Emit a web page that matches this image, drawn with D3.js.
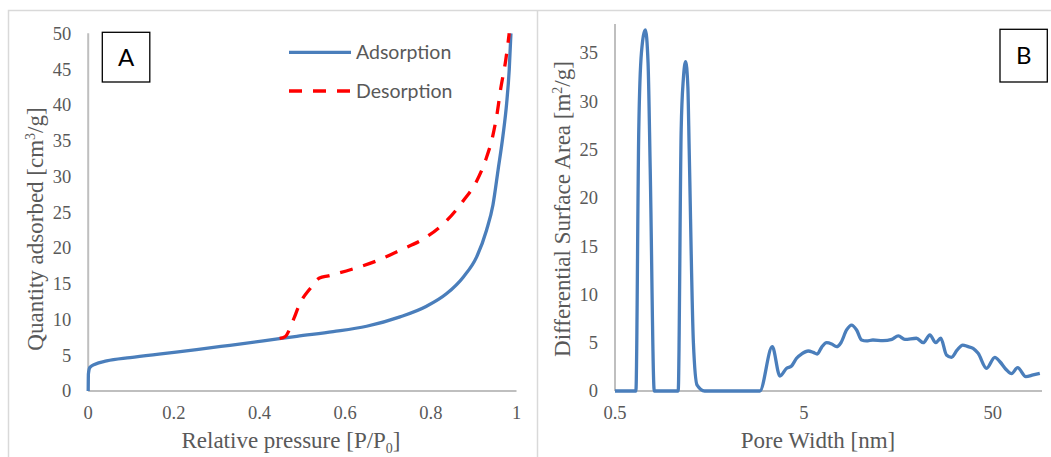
<!DOCTYPE html>
<html>
<head>
<meta charset="utf-8">
<script src="https://cdn.jsdelivr.net/npm/d3@7"></script>
<style>
  body { margin: 0; background: #fff; }
  svg { display: block; }
</style>
</head>
<body>
<svg id="chart" width="1051" height="457"></svg>
<script>
// ---- panel A: isotherm ----
const adsPressure = [0, 0.0005, 0.004, 0.016, 0.043, 0.098, 0.175, 0.253, 0.331, 0.409, 0.487, 0.572,
  0.650, 0.728, 0.790, 0.837, 0.876, 0.907, 0.930, 0.945, 0.957, 0.968, 0.977, 0.983, 0.987];
const adsQuantity = [0, 2.4, 3.3, 3.75, 4.2, 4.67, 5.23, 5.79, 6.39, 7.0, 7.65, 8.3,
  9.05, 10.36, 11.85, 13.62, 15.95, 18.75, 22.48, 26.0, 30.9, 35.5, 40.2, 44.9, 50];
const desPressure = [0.447, 0.460, 0.470, 0.480, 0.495, 0.518, 0.540, 0.561, 0.620, 0.674, 0.729,
  0.784, 0.830, 0.862, 0.877, 0.904, 0.928, 0.944, 0.955, 0.963, 0.975, 0.983];
const desQuantity = [7.35, 7.6, 8.6, 10.1, 12.3, 14.3, 15.8, 16.1, 17.1, 18.2, 19.7,
  21.3, 23.4, 25.5, 26.7, 29.0, 32.3, 35.5, 38.9, 42.2, 46.3, 50];
const ticksAx = [0, 0.2, 0.4, 0.6, 0.8, 1];
const ticksAy = [0, 5, 10, 15, 20, 25, 30, 35, 40, 45, 50];
const seriesNames = ["Adsorption", "Desorption"];

// ---- panel B: pore size distribution ----
const poreWidth = [0.5, 0.56, 0.6, 0.645, 0.668, 0.69, 0.724, 0.748, 0.768, 0.807, 0.87, 0.95, 1.0,
  1.08, 1.12, 1.15, 1.183, 1.215, 1.235, 1.30, 1.36, 1.49, 1.6, 1.8, 2.0, 2.2, 2.45, 2.7, 2.92,
  3.40, 3.73, 4.05, 4.30, 4.57, 4.86, 5.27, 5.60, 5.88, 6.20, 6.59, 7.01, 7.45, 7.85, 8.41, 8.94,
  9.50, 10.1, 10.7, 11.6, 13.1, 14.6, 15.8, 17.1, 19.7, 21.4, 23.2, 24.9, 26.5, 28.4, 30.2, 32.4,
  34.6, 37.0, 39.3, 41.8, 46.3, 51.2, 54.5, 59.1, 62.8, 67.6, 74.7, 81.7, 88.6];
const surfaceArea = [0, 0, 0, 0, 27, 35, 37.4, 34, 23, 0, 0, 0, 0,
  0, 27, 32.3, 34.1, 31.5, 25, 5, 0.6, 0, 0, 0, 0, 0, 0, 0, 0,
  4.59, 1.55, 2.35, 2.59, 3.39, 3.83, 4.14, 4.0, 3.83, 4.52, 5.0, 4.87, 4.59, 5.0, 6.32, 6.83,
  6.32, 5.28, 5.18, 5.28, 5.21, 5.35, 5.7, 5.35, 5.46, 5.0, 5.8, 5.0, 5.46, 3.73, 3.49, 4.25,
  4.76, 4.59, 4.42, 3.9, 2.35, 3.49, 3.03, 2.17, 1.8, 2.41, 1.48, 1.66, 1.83];
const ticksBx = [0.5, 5, 50];
const ticksBy = [0, 5, 10, 15, 20, 25, 30, 35];

const blue = "#4a7ebb", red = "#ff0000", axisGray = "#bfbfbf", textGray = "#595959";
const serif = "'Liberation Serif', 'Times New Roman', serif";
const sans = "Lato, 'Open Sans', sans-serif";

const svg = d3.select("#chart");

// panel frames
svg.append("path")
  .attr("d", "M8.5,457V10.5H1051M537.5,10.5V457")
  .attr("fill", "none").attr("stroke", "#d9d9d9").attr("stroke-width", 1.5);

function drawAxes(x, y, xTicks, yTicks, xFmt) {
  const [x0, x1] = x.range(), [y0, y1] = y.range();
  svg.append("line").attr("x1", x0).attr("x2", x0).attr("y1", y0).attr("y2", y1)
    .attr("stroke", axisGray).attr("stroke-width", 2);
  svg.append("line").attr("x1", x0).attr("x2", x1).attr("y1", y0).attr("y2", y0)
    .attr("stroke", axisGray).attr("stroke-width", 2);
  svg.append("g").selectAll("text").data(yTicks).join("text")
    .attr("x", x0 - 17).attr("y", d => y(d)).attr("dy", "0.35em")
    .attr("text-anchor", "end").attr("font-family", serif).attr("font-size", 18.5)
    .attr("fill", textGray).text(d => d);
  svg.append("g").selectAll("text").data(xTicks).join("text")
    .attr("x", d => x(d)).attr("y", 419)
    .attr("text-anchor", "middle").attr("font-family", serif).attr("font-size", 18.5)
    .attr("fill", textGray).text(xFmt);
}

function titleWithScript(x, y, rotate, pre, script, post, sub) {
  const t = svg.append("text")
    .attr("transform", `translate(${x},${y})` + (rotate ? " rotate(-90)" : ""))
    .attr("text-anchor", "middle").attr("font-family", serif).attr("font-size", 23)
    .attr("fill", textGray);
  t.append("tspan").text(pre);
  t.append("tspan").attr("font-size", 14).attr("dy", sub ? 5 : -8).text(script);
  t.append("tspan").attr("dy", sub ? -5 : 8).text(post);
}

function labelBox(x, y, w, h, letter) {
  svg.append("rect").attr("x", x).attr("y", y).attr("width", w).attr("height", h)
    .attr("fill", "#fff").attr("stroke", "#000").attr("stroke-width", 1.3);
  svg.append("text").attr("x", x + w / 2).attr("y", y + h / 2).attr("dy", "0.36em")
    .attr("text-anchor", "middle").attr("font-family", sans).attr("font-size", 24)
    .attr("fill", "#000").text(letter);
}

// ---------- Panel A ----------
const xA = d3.scaleLinear().domain([0, 1]).range([88.2, 516.5]);
const yA = d3.scaleLinear().domain([0, 50]).range([391, 33.3]);
drawAxes(xA, yA, ticksAx, ticksAy, d => d);

const lineA = d3.line().x(d => xA(d[0])).y(d => yA(d[1])).curve(d3.curveMonotoneX);
svg.append("path").datum(d3.zip(adsPressure, adsQuantity))
  .attr("d", lineA).attr("fill", "none").attr("stroke", blue).attr("stroke-width", 3.3);
svg.append("path").datum(d3.zip(desPressure, desQuantity))
  .attr("d", lineA).attr("fill", "none").attr("stroke", red).attr("stroke-width", 3.3)
  .attr("stroke-dasharray", "13,11");

// legend
const legend = svg.append("g").selectAll("g").data(seriesNames).join("g")
  .attr("transform", (d, i) => `translate(289,${52.3 + i * 38.7})`);
legend.append("line").attr("x1", 0).attr("x2", 62).attr("y1", 0).attr("y2", 0)
  .attr("stroke", (d, i) => i ? red : blue).attr("stroke-width", 3.3)
  .attr("stroke-dasharray", (d, i) => i ? "13,11" : null);
legend.append("text").attr("x", 67).attr("dy", "0.35em")
  .attr("font-family", sans).attr("font-size", 19.5).attr("fill", textGray).text(d => d);

labelBox(102.3, 32.3, 47.5, 49.7, "A");
titleWithScript(291, 448, false, "Relative pressure [P/P", "0", "]", true);
titleWithScript(43, 229, true, "Quantity adsorbed [cm", "3", "/g]", false);

// ---------- Panel B ----------
const xB = d3.scaleLog().domain([0.5, 91]).range([615, 1042]);
const yB = d3.scaleLinear().domain([0, 38]).range([391, 24]);
drawAxes(xB, yB, ticksBx, ticksBy, d => d);

const lineB = d3.line().x(d => xB(d[0])).y(d => yB(d[1])).curve(d3.curveMonotoneX);
svg.append("path").datum(d3.zip(poreWidth, surfaceArea))
  .attr("d", lineB).attr("fill", "none").attr("stroke", blue).attr("stroke-width", 3.3)
  .attr("stroke-linejoin", "round");

labelBox(1000, 29.3, 47.3, 52.7, "B");
titleWithScript(818, 448, false, "Pore Width [nm]", "", "", true);
titleWithScript(570, 209, true, "Differential Surface Area [m", "2", "/g]", false);
</script>
</body>
</html>
